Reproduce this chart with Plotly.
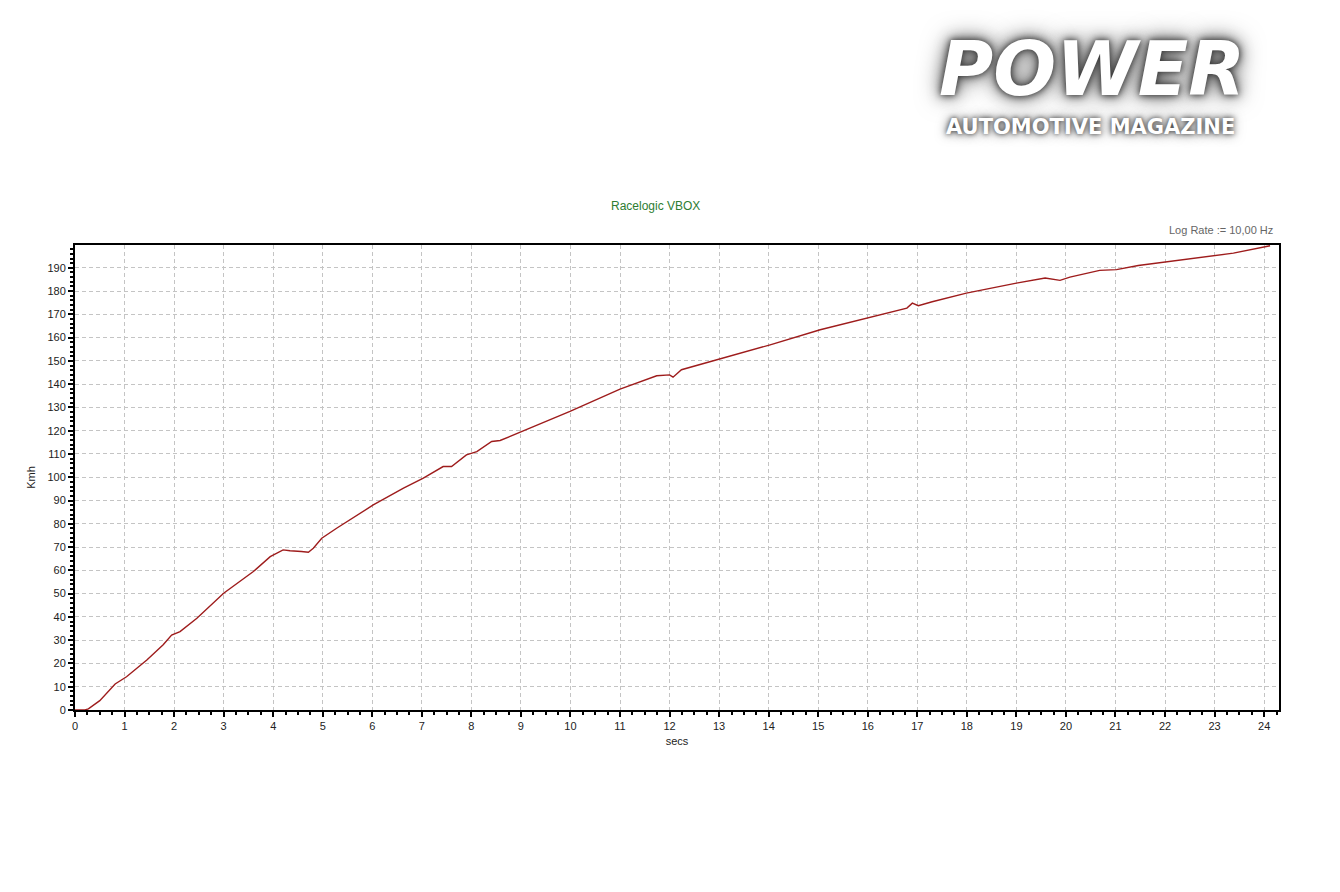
import plotly.graph_objects as go

# Data (time in seconds, speed in km/h)
time_s = [0, 0.2, 0.27, 0.5, 0.81, 1.04, 1.45, 1.78, 1.95, 2.12, 2.46, 3.0, 3.6, 3.94, 4.2,
          4.34, 4.57, 4.71, 4.81, 4.98, 5.28, 6.02, 6.63, 7.03, 7.43, 7.6, 7.9, 8.11, 8.41,
          8.58, 9.18, 9.99, 11.0, 11.74, 12.0, 12.07, 12.24, 12.68, 13.02, 13.29, 14.03,
          15.04, 15.98, 16.79, 16.9, 17.02, 17.3, 17.99, 19.0, 19.58, 19.88, 20.08, 20.68,
          21.02, 21.46, 22.37, 23.38, 24.12]
speed_kmh = [0, 0, 0.5, 4, 11.2, 14.3, 21.5, 28, 32.2, 33.7, 39.4, 50.2, 59.5, 65.9, 68.8,
             68.4, 68.1, 67.8, 69.5, 73.8, 78.1, 88.1, 95.3, 99.6, 104.6, 104.6, 109.6, 111,
             115.4, 115.8, 121.1, 128.3, 137.9, 143.6, 144, 143, 146.2, 148.8, 150.8, 152.6,
             156.9, 163.4, 168.4, 172.7, 174.8, 173.7, 175.4, 179.1, 183.4, 185.6, 184.6, 186,
             188.9, 189.2, 191, 193.5, 196.3, 199.5]

chart_title = "Racelogic VBOX"
log_rate_text = "Log Rate := 10,00 Hz"
x_label = "secs"
y_label = "Kmh"

W, H = 1340, 892
OFF = 8  # page body margin
pl, pr, pt, pb = 67, 69, 237, 190
pw, ph = W - pl - pr, H - pt - pb


def px(x):
    return (x - OFF - pl) / pw


def py(y):
    return (H - pb - (y - OFF)) / ph


fig = go.Figure()
fig.add_trace(go.Scatter(x=time_s, y=speed_kmh, mode="lines",
                         line=dict(color="#9e1c1c", width=1.4), showlegend=False))

axis_common = dict(
    showline=True, linecolor="black", linewidth=2, mirror=True,
    ticks="outside", tickcolor="black", ticklen=5, tickwidth=1.5,
    showgrid=True, gridcolor="#c4c4c4", griddash="4px,3px", gridwidth=1,
    zeroline=False, tickfont=dict(family="Liberation Sans, Arial", size=11, color="#222"),
)

fig.update_xaxes(range=[0, 24.3], dtick=1, tick0=0,
                 minor=dict(ticks="outside", ticklen=3, tickcolor="black", dtick=0.25, showgrid=False),
                 title=dict(text=x_label, font=dict(family="Liberation Sans, Arial", size=11, color="#222"), standoff=6),
                 **axis_common)
fig.update_yaxes(range=[0, 199.8], dtick=10, tick0=0,
                 minor=dict(ticks="outside", ticklen=3, tickcolor="black", dtick=2, showgrid=False),
                 title=dict(text=y_label, font=dict(family="Liberation Sans, Arial", size=11, color="#222"), standoff=10),
                 **axis_common)

fig.update_layout(
    width=W, height=H,
    margin=dict(l=pl, r=pr, t=pt, b=pb, autoexpand=False),
    paper_bgcolor="white", plot_bgcolor="white",
)

fig.add_annotation(text=chart_title, x=px(655), y=py(206), xref="paper", yref="paper",
                   showarrow=False, xanchor="center", yanchor="middle",
                   font=dict(family="Liberation Sans, Arial", size=12, color="#2e7d32"))
fig.add_annotation(text=log_rate_text, x=px(1275), y=py(230), xref="paper", yref="paper",
                   showarrow=False, xanchor="right", yanchor="middle",
                   font=dict(family="Liberation Sans, Arial", size=11, color="#666"))

# Logo
fig.add_annotation(text="POWER", x=px(1092), y=py(113), xref="paper", yref="paper",
                   showarrow=False, xanchor="center", yanchor="bottom", borderpad=0,
                   font=dict(family="DejaVu Sans", size=74, color="white", weight="bold",
                             style="italic",
                             shadow="0px 0px 6px #333, 0px 0px 14px #555, 0px 0px 26px #777"))
fig.add_annotation(text="AUTOMOTIVE MAGAZINE", x=px(1090), y=py(114), xref="paper", yref="paper",
                   showarrow=False, xanchor="center", yanchor="top", borderpad=0,
                   font=dict(family="DejaVu Sans", size=21, color="white", weight="bold",
                             shadow="0px 0px 5px #333, 0px 0px 12px #666"))

fig.write_html("out.html")
